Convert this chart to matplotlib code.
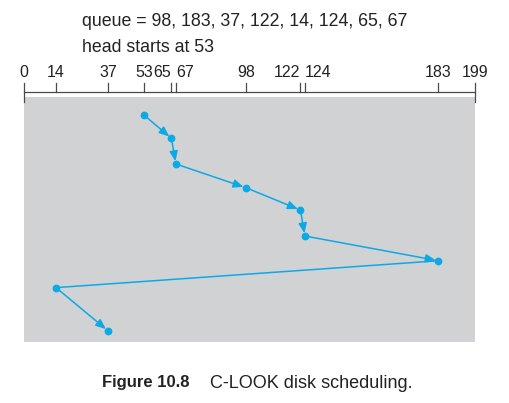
import matplotlib
matplotlib.use("Agg")
import matplotlib.pyplot as plt
from matplotlib.transforms import blended_transform_factory

# ---- data ----
queue = [98, 183, 37, 122, 14, 124, 65, 67]
head_start = 53
service_order = [53, 65, 67, 98, 122, 124, 183, 14, 37]
time_step = [0, 0.96, 2.03, 3.02, 3.95, 5.03, 6.06, 7.18, 8.98]
tick_values = [0, 14, 37, 53, 65, 67, 98, 122, 124, 183, 199]
tick_labels = ["0", "14", "37", "53", "65", "67", "98", "122", "124", "183", "199"]
tick_align = ["center", "center", "center", "center", "right", "left",
              "center", "right", "left", "center", "center"]
wrap_index = 7  # C-LOOK jump back (no arrow head)

W, H = 509, 403
fig = plt.figure(figsize=(W / 100, H / 100), dpi=100)
plt.rcParams['font.family'] = ['Liberation Sans', 'DejaVu Sans']

BLUE = "#0DA9E6"
GRAY = "#D1D2D4"
AXC = "#4A4A4A"
TXT = "#222222"

x0, x1 = 24.3, 474.7
ytop, ybot = 96.7, 341.7
ax = fig.add_axes([x0 / W, 1 - ybot / H, (x1 - x0) / W, (ybot - ytop) / H])
ax.set_facecolor(GRAY)
ax.set_xlim(0, 199)
ax.set_ylim(9.433, -0.775)
for s in ax.spines.values():
    s.set_visible(False)
ax.set_xticks([])
ax.set_yticks([])

hpx = ybot - ytop
def ay(py):
    return 1 + (ytop - py) / hpx

tr = blended_transform_factory(ax.transData, ax.transAxes)
# axis line
ax.plot([0, 199], [ay(92.3), ay(92.3)], color=AXC, lw=0.9, transform=tr, clip_on=False)
for v, lab, ha in zip(tick_values, tick_labels, tick_align):
    bottom = ay(101.7) if v in (0, 199) else ay(92.3)
    ax.plot([v, v], [ay(83.3), bottom], color=AXC, lw=0.9, transform=tr, clip_on=False)
    ax.text(v, ay(72.5), lab, transform=tr, ha=ha, va="center", fontsize=11.5,
            color=TXT, clip_on=False)

# path segments
for i in range(len(service_order) - 1):
    xa, ya = service_order[i], time_step[i]
    xb, yb = service_order[i + 1], time_step[i + 1]
    if i + 1 == wrap_index:
        ax.plot([xa, xb], [ya, yb], color=BLUE, lw=1.1)
    else:
        ax.annotate("", xy=(xb, yb), xytext=(xa, ya),
                    arrowprops=dict(arrowstyle="-|>,head_length=0.6,head_width=0.25",
                                    color=BLUE, lw=1.1, shrinkA=0, shrinkB=2.0))
ax.plot(service_order, time_step, "o", color=BLUE, markersize=4.6, linestyle="none")

fig.text(81.5 / W, 1 - 21.5 / H,
         "queue = " + ", ".join(str(q) for q in queue),
         ha="left", va="center", fontsize=12.8, color=TXT)
fig.text(81.5 / W, 1 - 47.3 / H, "head starts at %d" % head_start,
         ha="left", va="center", fontsize=12.8, color=TXT)

fig.text(102 / W, 1 - 383 / H, "Figure 10.8", ha="left", va="center",
         fontsize=12, fontweight="bold", color=TXT)
fig.text(210 / W, 1 - 383 / H, "C-LOOK disk scheduling.", ha="left", va="center",
         fontsize=13, color=TXT)

fig.savefig("out.png", dpi=100)
